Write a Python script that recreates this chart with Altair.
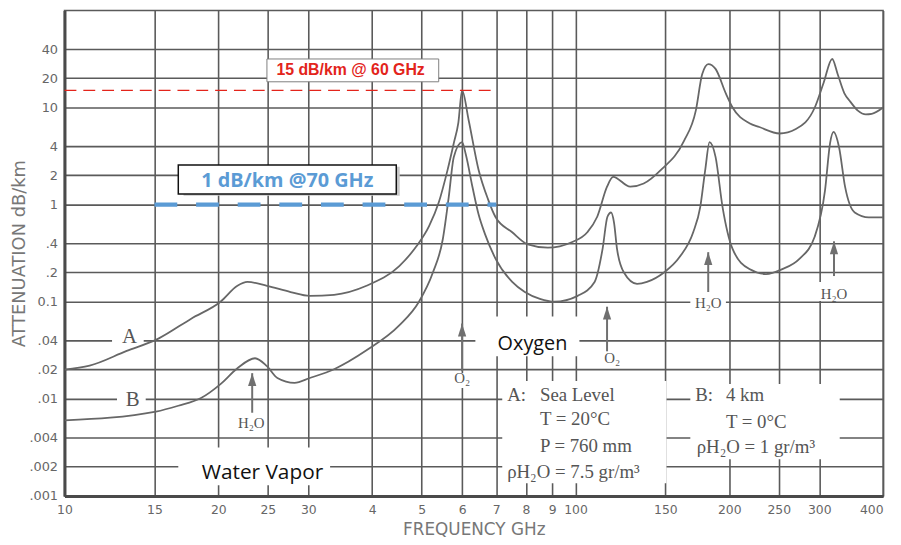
import altair as alt
import pandas as pd

# ---------------- data ----------------
A_FREQ = [10, 11.2, 13.2, 15.3, 17.7, 20.2, 21.8, 22.8, 24.9, 27.7,
          30.2, 33.7, 39, 45.2, 48.8, 51.7, 54, 56.2, 57.8, 59,
          60, 61.8, 64.6, 67.5, 69.7, 75.2, 80.7, 88.3, 98.3, 105.5,
          110.3, 115.3, 118.5, 128, 136, 147, 163, 172, 177, 182,
          188, 197, 203, 219, 229, 251, 270, 294, 306, 318,
          326, 336, 345, 357, 370, 380, 400]
A_ATT = [0.020, 0.022, 0.031, 0.042, 0.067, 0.10, 0.146, 0.16, 0.146, 0.126,
         0.115, 0.118, 0.146, 0.233, 0.37, 0.60, 1.05, 2.28, 4.3, 7.0,
         15, 7.4, 2.3, 1.12, 0.75, 0.52, 0.39, 0.36, 0.41, 0.52,
         0.75, 1.53, 1.93, 1.53, 1.65, 2.28, 4.5, 9.3, 22, 28,
         25, 13.9, 10, 6.9, 6.3, 5.4, 6.0, 10, 18, 31.6,
         22, 14, 11.5, 9.3, 8.5, 8.6, 10]

B_FREQ = [10, 15.1, 16.7, 18.5, 20.2, 21.8, 23.6, 24.9, 26.1, 28.2,
          30.2, 33.7, 39, 45.2, 49.4, 52.6, 55, 56.5, 57.8, 60,
          61, 62.9, 64.6, 66.5, 69.7, 75.2, 79.6, 85.2, 91, 101,
          109, 113, 115.5, 117.4, 119, 120.6, 124.4, 132, 138, 149,
          160, 170, 175.5, 179.5, 183, 188, 194, 203, 219, 236,
          254, 274, 294, 308, 315, 320, 328, 337, 352, 375, 400]
B_ATT = [0.006, 0.0074, 0.0085, 0.0102, 0.0142, 0.0207, 0.0262, 0.0217, 0.0164, 0.0146,
         0.0164, 0.0202, 0.0316, 0.057, 0.10, 0.20, 0.44, 1.2, 3.1, 4.4,
         3.3, 1.5, 0.8, 0.5, 0.28, 0.16, 0.126, 0.107, 0.100, 0.115,
         0.16, 0.35, 0.75, 0.83, 0.65, 0.35, 0.20, 0.153, 0.16, 0.20,
         0.29, 0.52, 0.95, 2.3, 4.4, 3.1, 0.95, 0.35, 0.217, 0.193,
         0.217, 0.275, 0.47, 1.42, 4.3, 5.6, 3.9, 1.53, 0.83, 0.74, 0.74]

X_DOMAIN = [10, 400]
Y_DOMAIN = [0.001, 100]
X_TICKS = [10, 15, 20, 25, 30, 40, 50, 60, 70, 80, 90, 100, 150, 200, 250, 300, 400]
X_LABELS = ['10', '15', '20', '25', '30', '4', '5', '6', '7', '8', '9',
            '100', '150', '200', '250', '300', '400']
Y_TICKS = [0.001, 0.002, 0.004, 0.01, 0.02, 0.04, 0.1, 0.2, 0.4, 1, 2, 4, 10, 20, 40]
Y_LABELS = ['.001', '.002', '.004', '.01', '.02', '.04', '0.1', '.2', '.4',
            '1', '2', '4', '10', '20', '40']

# reference lines
RED_LEVEL = 15
RED_FROM, RED_TO = 10, 70
BLUE_LEVEL = 1
BLUE_FROM, BLUE_TO = 15, 70

# annotation boxes (GHz / dB/km)
WHITE_X1 = [71.9, 167.8, 63.7, 16.7, 12.39, 12.67, 57.5, 167.8, 293]
WHITE_X2 = [150.7, 329, 101.8, 33.1, 14.29, 14.42, 63.2, 197, 347]
WHITE_Y1 = [0.00135, 0.00239, 0.0275, 0.00129, 0.0316, 0.00772, 0.01295, 0.0828, 0.102]
WHITE_Y2 = [0.0153, 0.0142, 0.0703, 0.00316, 0.053, 0.01295, 0.0184, 0.121, 0.16]

# arrows
ARROW_F = [23.3, 60, 115.3, 181.9, 320.6]
ARROW_TIP = [0.0184, 0.0597, 0.0889, 0.324, 0.419]
ARROW_END = [0.0072, 0.0193, 0.0309, 0.126, 0.184]
MOL_TEXT = ['H\u2082O', 'O\u2082', 'O\u2082', 'H\u2082O', 'H\u2082O']
MOL_F = [23.2, 60, 118, 181.9, 320.6]
MOL_Y = [0.00506, 0.01456, 0.0233, 0.0868, 0.107]

# legend texts
LEG_TEXT = ['A:', 'Sea Level', 'T = 20\u00b0C', 'P = 760 mm', '\u03c1H\u2082O = 7.5 gr/m\u00b3',
            'B:', '4 km', 'T = 0\u00b0C', '\u03c1H\u2082O = 1 gr/m\u00b3']
LEG_F = [73.5, 85.2, 85.2, 85.2, 73.5, 171.6, 197, 197, 172.7]
LEG_Y = [0.00954, 0.00954, 0.00543, 0.00281, 0.00152, 0.00954, 0.00954, 0.00506, 0.00275]

CURVE_TEXT = ['A', 'B']
CURVE_F = [13.4, 13.6]
CURVE_Y = [0.0373, 0.0085]

# ---------------- chart ----------------
def ternary(values, labels):
    parts = [f"datum.value == {v} ? '{l}'" for v, l in zip(values, labels)]
    return " : ".join(parts) + " : ''"

xs = alt.Scale(type='log', domain=X_DOMAIN, nice=False)
ys = alt.Scale(type='log', domain=Y_DOMAIN, nice=False)

GRID = '#5a5a5a'
XAXIS = alt.Axis(values=X_TICKS, labelExpr=ternary(X_TICKS, X_LABELS), grid=True,
                 gridColor=GRID, gridWidth=1.6, domainColor='#4a4a4a', domainWidth=3,
                 ticks=False, labelPadding=8, labelFont='DejaVu Sans', labelFontSize=12.5,
                 labelColor='#666666', labelOverlap=False, labelFlush=False,
                 labelAlign={'condition': {'test': f'datum.value == {X_DOMAIN[1]}', 'value': 'right'},
                             'value': 'center'},
                 title='FREQUENCY GHz', titleFont='DejaVu Sans', titleFontSize=17,
                 titleFontWeight='normal', titleColor='#777777', titleY=39,
                 titleBaseline='alphabetic')
YAXIS = alt.Axis(values=Y_TICKS, labelExpr=ternary(Y_TICKS, Y_LABELS), grid=True,
                 gridColor=GRID, gridWidth=1.6, domainColor='#4a4a4a', domainWidth=3,
                 ticks=False, labelPadding=7, labelFont='DejaVu Sans', labelFontSize=13,
                 labelColor='#666666', labelOverlap=False, labelFlush=False,
                 title='ATTENUATION dB/km', titleFont='DejaVu Sans', titleFontSize=18,
                 titleFontWeight='normal', titleColor='#777777', titleX=-45, titleY=245,
                 titleAngle=270, titleBaseline='middle')

def X(field):
    return alt.X(field, type='quantitative', scale=xs, axis=XAXIS)

def Y(field):
    return alt.Y(field, type='quantitative', scale=ys, axis=YAXIS)

curves = pd.DataFrame({
    'f': A_FREQ + B_FREQ,
    'att': A_ATT + B_ATT,
    'curve': ['A'] * len(A_FREQ) + ['B'] * len(B_FREQ),
})
lines = alt.Chart(curves).mark_line(color='#676767', strokeWidth=1.8,
                                    interpolate='monotone', clip=True).encode(
    x=X('f'), y=Y('att'), detail='curve:N')

white = alt.Chart(pd.DataFrame({'x1': WHITE_X1, 'x2': WHITE_X2, 'y1': WHITE_Y1, 'y2': WHITE_Y2})
                  ).mark_rect(color='white').encode(
    x=X('x1'), x2='x2', y=Y('y1'), y2='y2')

boxes = pd.DataFrame({
    'x1': [17.1, 24.9, 16.7], 'x2': [45.3, 54, 44.6],
    'y1': [1.235, 18.4, 1.29], 'y2': [2.45, 31.6, 2.56],
    'fill': ['#c8c8c8', 'white', 'white'],
    'stroke': ['#c8c8c8', '#7f7f7f', '#111111'],
    'sw': [0, 1, 1.5],
})
label_boxes = alt.Chart(boxes).mark_rect().encode(
    x=X('x1'), x2='x2', y=Y('y1'), y2='y2',
    fill=alt.Fill('fill:N', scale=None), stroke=alt.Stroke('stroke:N', scale=None),
    strokeWidth=alt.StrokeWidth('sw:Q', scale=None))

red_rule = alt.Chart(pd.DataFrame({'a': [RED_FROM], 'b': [RED_TO], 'y': [RED_LEVEL]})).mark_rule(
    color='#e3241b', strokeWidth=1.3, strokeDash=[12, 7]).encode(x=X('a'), x2='b', y=Y('y'))
blue_rule = alt.Chart(pd.DataFrame({'a': [BLUE_FROM], 'b': [BLUE_TO], 'y': [BLUE_LEVEL]})).mark_rule(
    color='#5b9bd5', strokeWidth=4.5, strokeDash=[23, 19]).encode(x=X('a'), x2='b', y=Y('y'))

arrows = pd.DataFrame({'f': ARROW_F, 'tip': ARROW_TIP, 'end': ARROW_END})
shafts = alt.Chart(arrows).mark_rule(color='#707070', strokeWidth=2).encode(
    x=X('f'), y=Y('tip'), y2='end')
heads = alt.Chart(arrows).mark_point(shape='M0,0L0.32,1L-0.32,1Z', size=676, filled=True,
                                     color='#707070', opacity=1, strokeWidth=0).encode(
    x=X('f'), y=Y('tip'))

def texts(df_dict, **style):
    return alt.Chart(pd.DataFrame(df_dict)).mark_text(**style).encode(
        x=X('x'), y=Y('y'), text='t:N')

mol = texts({'x': MOL_F, 'y': MOL_Y, 't': MOL_TEXT}, font='Liberation Serif', fontSize=15,
            color='#555555', align='center', baseline='alphabetic')
legend = texts({'x': LEG_F, 'y': LEG_Y, 't': LEG_TEXT}, font='Liberation Serif', fontSize=19,
               color='#555555', align='left', baseline='alphabetic')
ab = texts({'x': CURVE_F, 'y': CURVE_Y, 't': CURVE_TEXT}, font='Liberation Serif', fontSize=21,
           color='#555555', align='center', baseline='alphabetic')
red_txt = texts({'x': [36.3], 'y': [24.4], 't': ['15 dB/km @ 60 GHz']}, font='Liberation Sans',
                fontSize=16, fontWeight='bold', color='#e3241b', align='center', baseline='middle')
blue_txt = texts({'x': [27.3], 'y': [1.758], 't': ['1 dB/km @70 GHz']}, font='Open Sans',
                 fontSize=20, fontWeight='bold', color='#5b9bd5', align='center', baseline='middle')
oxy = texts({'x': [82.4], 'y': [0.0316], 't': ['Oxygen']}, font='Open Sans', fontSize=20,
            color='#111111', align='center', baseline='alphabetic')
wv = texts({'x': [24.4], 'y': [0.00149], 't': ['Water Vapor']}, font='Open Sans', fontSize=21,
           color='#111111', align='center', baseline='alphabetic')

chart = alt.layer(
    white, label_boxes, lines, red_rule, blue_rule, shafts, heads,
    mol, legend, ab, red_txt, blue_txt, oxy, wv
).properties(
    width=826, height=490,
    padding={'left': 57, 'top': 0, 'right': 10, 'bottom': 44},
    autosize=alt.AutoSizeParams(type='none'),
    background='white',
).configure_view(stroke='#5a5a5a', strokeWidth=1.5)

chart.save('out.html', embed_options={'renderer': 'svg', 'actions': False})
